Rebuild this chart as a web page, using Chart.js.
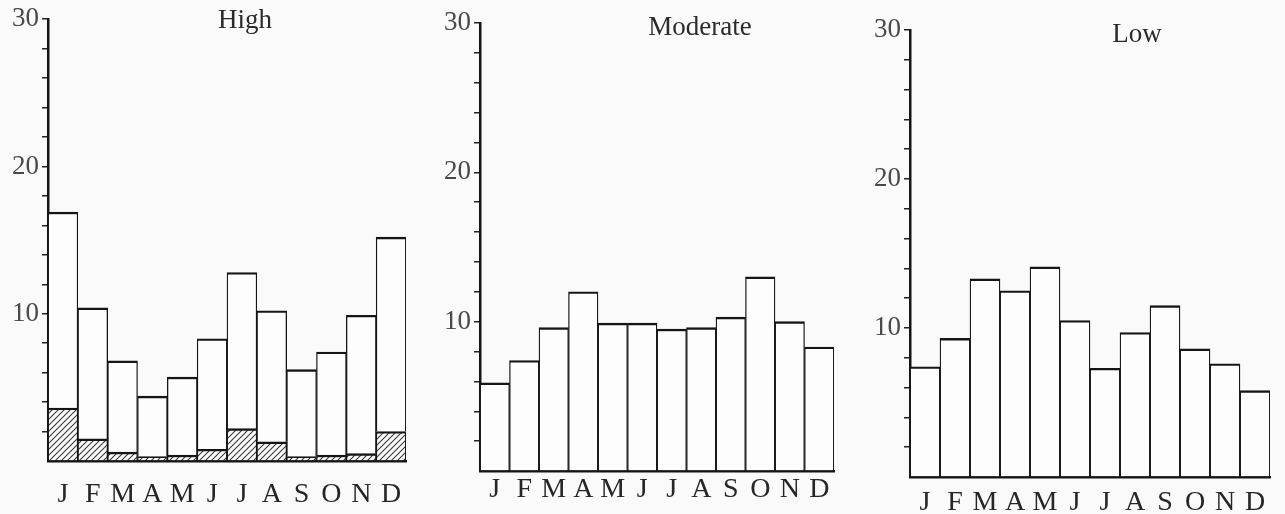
<!DOCTYPE html>
<html>
<head>
<meta charset="utf-8">
<script src="https://cdn.jsdelivr.net/npm/chart.js@4.4.1/dist/chart.umd.min.js"></script>
<style>
  html, body { margin: 0; padding: 0; background: #fafafa; }
  #wrap { position: relative; width: 1285px; height: 514px; overflow: hidden; }
  .panel { position: absolute; top: 0; }
</style>
</head>
<body>
<div id="wrap">
  <div class="panel" style="left:0px"><canvas id="chartHigh" width="430" height="514"></canvas></div>
  <div class="panel" style="left:430px"><canvas id="chartModerate" width="430" height="514"></canvas></div>
  <div class="panel" style="left:855px"><canvas id="chartLow" width="430" height="514"></canvas></div>
</div>
<script>
/*---------------------------- data ------------------------------------*/
var months = ['J','F','M','A','M','J','J','A','S','O','N','D'];

// High: full bar height and the hatched share at the bottom of each bar
var highTotal   = [16.9, 10.4, 6.8, 4.4, 5.7, 8.3, 12.8, 10.2, 6.2, 7.4, 9.9, 15.2];
var highHatched = [3.6, 1.5, 0.6, 0.3, 0.4, 0.8, 2.2, 1.3, 0.3, 0.4, 0.5, 2.0];

var moderate = [5.9, 7.4, 9.6, 12.0, 9.9, 9.9, 9.5, 9.6, 10.3, 13.0, 10.0, 8.3];
var low      = [7.4, 9.3, 13.3, 12.5, 14.1, 10.5, 7.3, 9.7, 11.5, 8.6, 7.6, 5.8];

var yMax = 30;
var yStep = 2;
var yLabelled = [10, 20, 30];

/*---------------------------- helpers ------------------------------------*/
var SERIF = '"Liberation Serif", "DejaVu Serif", serif';

function hatchPattern() {
  var c = document.createElement('canvas');
  c.width = 6; c.height = 6;
  var g = c.getContext('2d');
  g.fillStyle = '#fdfdfd';
  g.fillRect(0, 0, 6, 6);
  g.strokeStyle = '#3a3a3a';
  g.lineWidth = 1.1;
  g.beginPath();
  g.moveTo(0, 6); g.lineTo(6, 0);
  g.moveTo(-1, 1); g.lineTo(1, -1);
  g.moveTo(5, 7); g.lineTo(7, 5);
  g.stroke();
  return g.createPattern(c, 'repeat');
}

var panelTitle = {
  id: 'panelTitle',
  afterDraw: function(chart, args, opts) {
    var ctx = chart.ctx;
    ctx.save();
    ctx.font = '27px ' + SERIF;
    ctx.fillStyle = '#2b2b2b';
    ctx.textAlign = 'center';
    ctx.textBaseline = 'alphabetic';
    ctx.fillText(opts.text, opts.x, opts.y);
    ctx.restore();
  }
};

var barStyle = {
  backgroundColor: '#fdfdfd',
  borderColor: '#151515',
  borderWidth: {top: 2.4, left: 1.3, right: 1.3, bottom: 0},
  categoryPercentage: 1.0,
  barPercentage: 1.0
};

function makePanel(id, datasets, g, stacked) {
  return new Chart(id, {
    type: 'bar',
    data: { labels: months, datasets: datasets },
    plugins: [panelTitle],
    options: {
      responsive: false,
      animation: false,
      layout: { padding: { left: 0, right: 430 - g.right, top: g.top, bottom: 0 } },
      plugins: {
        legend: { display: false },
        tooltip: { enabled: false },
        title: { display: false },
        panelTitle: { text: g.title, x: g.titleX, y: g.titleY }
      },
      scales: {
        x: {
          stacked: stacked,
          grid: { display: false },
          border: { display: true, color: '#151515', width: 2.5 },
          ticks: {
            color: '#262626',
            font: { family: SERIF, size: 28 },
            padding: g.labelPad,
            maxRotation: 0,
            autoSkip: false
          },
          afterFit: function(scale) { scale.height = 514 - g.bottom; }
        },
        y: {
          stacked: stacked,
          min: 0,
          max: yMax,
          grid: {
            drawOnChartArea: false,
            drawTicks: true,
            tickLength: 6,
            color: function(c) { return c.tick.value === 0 ? 'rgba(0,0,0,0)' : '#222'; },
            lineWidth: 1.5
          },
          border: { display: true, color: '#151515', width: 2.5 },
          ticks: {
            stepSize: yStep,
            maxTicksLimit: 40,
            autoSkip: false,
            color: '#4a4a4a',
            font: { family: SERIF, size: 27 },
            padding: 3,
            callback: function(v) {
              var r = Math.round(v);
              return (Math.abs(v - r) < 1e-6 && yLabelled.indexOf(r) >= 0) ? String(r) : '';
            }
          },
          afterFit: function(scale) { scale.width = g.left; }
        }
      }
    }
  });
}

/*---------------------------- High ------------------------------------*/
var highUpper = highTotal.map(function(t, i) { return +(t - highHatched[i]).toFixed(2); });

makePanel('chartHigh', [
  Object.assign({ data: highHatched }, barStyle, { backgroundColor: hatchPattern() }),
  Object.assign({ data: highUpper }, barStyle)
], { left: 48, right: 406, top: 19, bottom: 461, labelPad: 9,
     title: 'High', titleX: 245, titleY: 28 }, true);

/*---------------------------- Moderate ------------------------------------*/
makePanel('chartModerate', [
  Object.assign({ data: moderate }, barStyle)
], { left: 50, right: 404, top: 23, bottom: 471, labelPad: -6,
     title: 'Moderate', titleX: 270, titleY: 35 }, false);

/*---------------------------- Low ------------------------------------*/
makePanel('chartLow', [
  Object.assign({ data: low }, barStyle)
], { left: 55, right: 415, top: 30, bottom: 477, labelPad: 1,
     title: 'Low', titleX: 282, titleY: 42 }, false);
</script>
</body>
</html>
